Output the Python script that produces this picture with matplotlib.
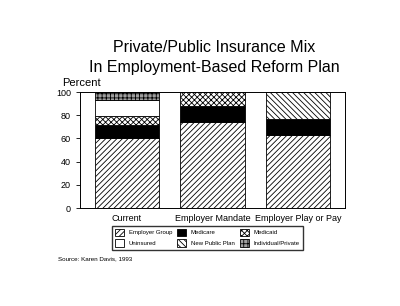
import matplotlib

matplotlib.use("Agg")
import matplotlib.pyplot as plt
from matplotlib.patches import Patch

plt.rcParams["font.family"] = ["Liberation Sans", "DejaVu Sans"]
plt.rcParams["hatch.linewidth"] = 0.6

categories = ["Current", "Employer Mandate", "Employer Play or Pay"]
series_names = ["Employer Group", "Medicare", "Medicaid",
                "Uninsured", "New Public Plan", "Individual/Private"]
employer_group = [60, 74, 63]
medicare = [12, 14, 14]
medicaid = [7, 12, 0]
uninsured = [14, 0, 0]
new_public_plan = [0, 0, 23]
individual_private = [7, 0, 0]
yticks = [0, 20, 40, 60, 80, 100]

# (facecolor, hatch) per series
STYLES = [
    ("white", "//////"),
    ("black", None),
    ("white", "xxxxxx"),
    ("white", None),
    ("white", "\\\\\\\\\\\\"),
    ("#a0a0a0", "++++"),
]

fig = plt.figure(figsize=(4.0, 3.06), dpi=100)
fig.patch.set_facecolor("white")
ax = fig.add_axes([0.2, 0.32, 0.6625, 0.379])

x = range(len(categories))
bottom = [0] * len(categories)
values = [employer_group, medicare, medicaid, uninsured,
          new_public_plan, individual_private]
for vals, (fc, hatch) in zip(values, STYLES):
    ax.bar(x, vals, width=0.75, bottom=bottom, color=fc, hatch=hatch,
           edgecolor="black", linewidth=0.6)
    bottom = [b + v for b, v in zip(bottom, vals)]

ax.set_xlim(-0.55, 2.55)
ax.set_ylim(0, 100)
ax.set_yticks(yticks)
ax.set_xticks(list(x))
ax.set_xticklabels(categories, fontsize=6.5)
ax.tick_params(axis="y", labelsize=6.5, length=3, width=0.6)
ax.tick_params(axis="x", length=0, pad=4)
for spine in ax.spines.values():
    spine.set_linewidth(0.7)

fig.text(0.155, 0.72, "Percent", fontsize=8)
fig.text(0.535, 0.845, "Private/Public Insurance Mix", fontsize=11.5,
         ha="center", va="center")
fig.text(0.535, 0.778, "In Employment-Based Reform Plan", fontsize=11.5,
         ha="center", va="center")

handles = [Patch(facecolor=fc, hatch=h, edgecolor="black", linewidth=0.6)
           for fc, h in STYLES]
order = [0, 3, 1, 4, 2, 5]
fig.legend([handles[i] for i in order], [series_names[i] for i in order],
           ncol=3, loc="upper left", bbox_to_anchor=(0.272, 0.272),
           fontsize=4.3, frameon=True, fancybox=False, edgecolor="black",
           handlelength=1.5, handleheight=1.5, handletextpad=0.8,
           columnspacing=0.9, borderpad=0.5, labelspacing=0.55)

fig.text(0.145, 0.148, "Source: Karen Davis, 1993", fontsize=4.5)

fig.savefig("out.png", dpi=100, facecolor="white")
